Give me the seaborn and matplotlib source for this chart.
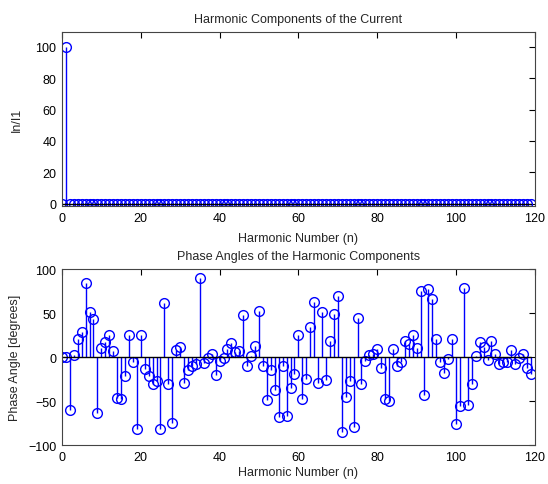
import numpy as np
import matplotlib
matplotlib.use('Agg')
import matplotlib.pyplot as plt
import seaborn as sns

# harmonic numbers 0..119
harmonic_n = list(range(120))

# In/I1 in percent (fundamental = 100, rest essentially zero)
magnitude = [0, 100] + [0] * 118

# phase angles in degrees
phase_deg = [
    0, 0, -60, 3, 21, 29, 84, 51, 43, -63,
    10, 17, 25, 7, -46, -48, -21, 25, -5, -82,
    25, -14, -21, -31, -27, -82, 61, -31, -75, 8,
    12, -29, -15, -10, -8, 90, -7, -1, 4, -20,
    -4, -1, 9, 16, 6, 7, 48, -10, 1, 13,
    53, -10, -49, -15, -37, -68, -10, -67, -35, -19,
    25, -47, -25, 34, 63, -29, 51, -26, 18, 49,
    70, -85, -45, -27, -79, 44, -30, -4, 2, 4,
    9, -12, -47, -50, 9, -10, -5, 18, 15, 25,
    10, 75, -43, 77, 66, 21, -5, -18, -2, 21,
    -76, -55, 79, -54, -30, 1, 17, 12, -3, 18,
    4, -8, -5, -5, 8, -8, -1, 4, -12, -19,
]

sns.set_theme(style='white')
plt.rcParams['font.family'] = ['Liberation Sans', 'DejaVu Sans']
plt.rcParams['font.size'] = 9

fig = plt.figure(figsize=(5.48, 4.85), dpi=100)
ax1 = fig.add_axes([0.113, 0.573, 0.863, 0.359])
ax2 = fig.add_axes([0.113, 0.080, 0.863, 0.363])


def stem_panel(ax, x, y):
    markers, stems, base = ax.stem(x, y, linefmt='-', markerfmt='o', basefmt='k-')
    plt.setp(stems, color='#0000ff', linewidth=1.0)
    plt.setp(markers, markerfacecolor='none', markeredgecolor='#0000ff',
             markersize=7, markeredgewidth=1.0)
    plt.setp(base, color='black', linewidth=1.0)


def style_axes(ax):
    ax.tick_params(direction='in', top=True, right=True, length=4,
                   width=0.8, labelsize=9, colors='black', pad=4)
    for spine in ax.spines.values():
        spine.set_visible(True)
        spine.set_color('#444444')
        spine.set_linewidth(0.8)
    ax.grid(False)


# --- top panel ---
stem_panel(ax1, harmonic_n, magnitude)
ax1.set_xlim(0, 120)
ax1.set_ylim(-1.5, 109.5)
ax1.set_xticks(range(0, 121, 20))
ax1.set_yticks(range(0, 101, 20))
ax1.set_title('Harmonic Components of the Current', fontsize=9, pad=7)
ax1.set_xlabel('Harmonic Number (n)', fontsize=9, labelpad=6)
ax1.set_ylabel('In/I1', fontsize=9, labelpad=9)
style_axes(ax1)

# --- bottom panel ---
stem_panel(ax2, harmonic_n, phase_deg)
ax2.set_xlim(0, 120)
ax2.set_ylim(-100, 100)
ax2.set_xticks(range(0, 121, 20))
ax2.set_yticks(range(-100, 101, 50))
ax2.set_title('Phase Angles of the Harmonic Components', fontsize=9, pad=7)
ax2.set_xlabel('Harmonic Number (n)', fontsize=9, labelpad=2)
ax2.set_ylabel('Phase Angle [degrees]', fontsize=9, labelpad=5)
style_axes(ax2)

fig.savefig('out.png', dpi=100, facecolor='white')
